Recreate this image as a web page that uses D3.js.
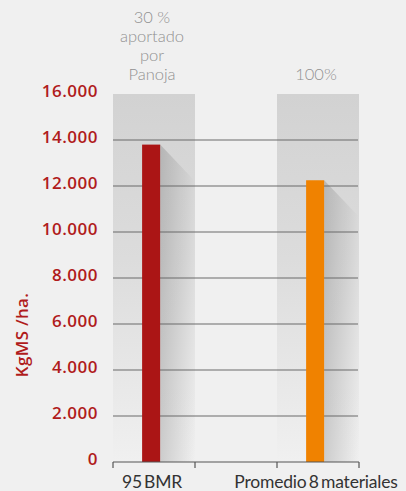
<!DOCTYPE html>
<html>
<head>
<meta charset="utf-8">
<script src="https://cdn.jsdelivr.net/npm/d3@7"></script>
<style>
  html, body { margin: 0; padding: 0; background: #f0f0f0; }
  svg { display: block; }
</style>
</head>
<body>
<svg id="chart" width="406" height="491"></svg>
<script>
// ---- data ----
const categories = ["95 BMR", "Promedio 8 materiales"];
const values = [13800, 12250];
const barColors = ["#ab1515", "#f08200"];
const topNotes = [["30 %", "aportado", "por", "Panoja"], ["100%"]];
const yTicks = [0, 2000, 4000, 6000, 8000, 10000, 12000, 14000, 16000];
const yTickLabels = ["0", "2.000", "4.000", "6.000", "8.000", "10.000", "12.000", "14.000", "16.000"];
const yTitle = "KgMS /ha.";

// ---- layout ----
const svg = d3.select("#chart");
const x = d3.scaleBand().domain(categories).range([113, 359]).paddingInner(0.5).paddingOuter(0);
const y = d3.scaleLinear().domain([0, 16000]).range([462, 94]);

const defs = svg.append("defs");
const bandGrad = defs.append("linearGradient").attr("id", "bandGrad")
  .attr("x1", 0).attr("y1", 0).attr("x2", 0).attr("y2", 1);
bandGrad.append("stop").attr("offset", "0%").attr("stop-color", "#d2d2d2");
bandGrad.append("stop").attr("offset", "45%").attr("stop-color", "#dcdcdc");
bandGrad.append("stop").attr("offset", "100%").attr("stop-color", "#f0f0f0");

const shadowGrad = defs.append("linearGradient").attr("id", "shadowGrad")
  .attr("x1", 0).attr("y1", 0).attr("x2", 1).attr("y2", 0);
shadowGrad.append("stop").attr("offset", "0%").attr("stop-color", "#000").attr("stop-opacity", 0.15);
shadowGrad.append("stop").attr("offset", "100%").attr("stop-color", "#000").attr("stop-opacity", 0.0);

// bands
svg.selectAll("rect.band").data(categories).enter().append("rect")
  .attr("class", "band")
  .attr("x", d => x(d)).attr("width", x.bandwidth())
  .attr("y", y(16000)).attr("height", y(0) - y(16000))
  .attr("fill", "url(#bandGrad)");

const barX = d => x(d) + x.bandwidth() * 0.355;
const barW = x.bandwidth() * 0.22;

// shadows
svg.selectAll("path.shadow").data(categories).enter().append("path")
  .attr("class", "shadow")
  .attr("d", (d, i) => {
    const x0 = barX(d) + barW, yTop = y(values[i]);
    const x1 = x(d) + x.bandwidth();
    const dx = x1 - x0;
    return `M${x0},${yTop}L${x1},${yTop + dx * 1.05}L${x1},${y(0)}L${x0},${y(0)}Z`;
  })
  .attr("fill", "url(#shadowGrad)");

// gridlines
svg.selectAll("line.grid").data(yTicks.filter(t => t > 0 && t < 16000)).enter().append("line")
  .attr("class", "grid")
  .attr("x1", 113).attr("x2", 358)
  .attr("y1", d => y(d)).attr("y2", d => y(d))
  .attr("stroke", "#6a6a6a").attr("stroke-width", 1.2);

// bars
svg.selectAll("rect.bar").data(categories).enter().append("rect")
  .attr("class", "bar")
  .attr("x", d => barX(d)).attr("width", barW)
  .attr("y", (d, i) => y(values[i])).attr("height", (d, i) => y(0) - y(values[i]))
  .attr("fill", (d, i) => barColors[i]);

// x axis
const xEdges = [];
categories.forEach(c => { xEdges.push(x(c)); xEdges.push(x(c) + x.bandwidth()); });
svg.append("line").attr("x1", 113).attr("x2", 359).attr("y1", y(0)).attr("y2", y(0))
  .attr("stroke", "#555").attr("stroke-width", 1.2);
svg.selectAll("line.xtick").data(xEdges).enter().append("line")
  .attr("x1", d => d).attr("x2", d => d).attr("y1", y(0)).attr("y2", y(0) + 6)
  .attr("stroke", "#555").attr("stroke-width", 1.2);
svg.selectAll("text.xlab").data(categories).enter().append("text")
  .attr("x", d => x(d) + x.bandwidth() / 2 - 2).attr("y", 488)
  .attr("text-anchor", "middle")
  .attr("font-family", "Lato, sans-serif").attr("font-size", 17.5).attr("font-weight", 400)
  .attr("fill", "#333").attr("word-spacing", "-2").attr("letter-spacing", "-0.2")
  .text(d => d);

// y labels
svg.selectAll("text.ylab").data(yTicks).enter().append("text")
  .attr("x", 98).attr("y", d => y(d) + 3)
  .attr("text-anchor", "end")
  .attr("font-family", "'Open Sans', sans-serif").attr("font-size", 17).attr("font-weight", 600)
  .attr("fill", "#b01c1c").attr("letter-spacing", "0.5")
  .text((d, i) => yTickLabels[i]);

// y title
svg.append("text")
  .attr("transform", "translate(28,335) rotate(-90)")
  .attr("text-anchor", "middle")
  .attr("font-family", "'Open Sans', sans-serif").attr("font-size", 17).attr("font-weight", 600)
  .attr("fill", "#b01c1c").attr("letter-spacing", "0.3")
  .text(yTitle);

// top notes
categories.forEach((c, i) => {
  const lines = topNotes[i];
  const cx = x(c) + x.bandwidth() / 2 - 2;
  const lastBase = 80;
  lines.forEach((t, j) => {
    svg.append("text")
      .attr("x", cx).attr("y", lastBase - (lines.length - 1 - j) * 19)
      .attr("text-anchor", "middle")
      .attr("font-family", "Lato, sans-serif").attr("font-size", 16.5).attr("font-weight", 300)
      .attr("fill", "#909090")
      .text(t);
  });
});
</script>
</body>
</html>
